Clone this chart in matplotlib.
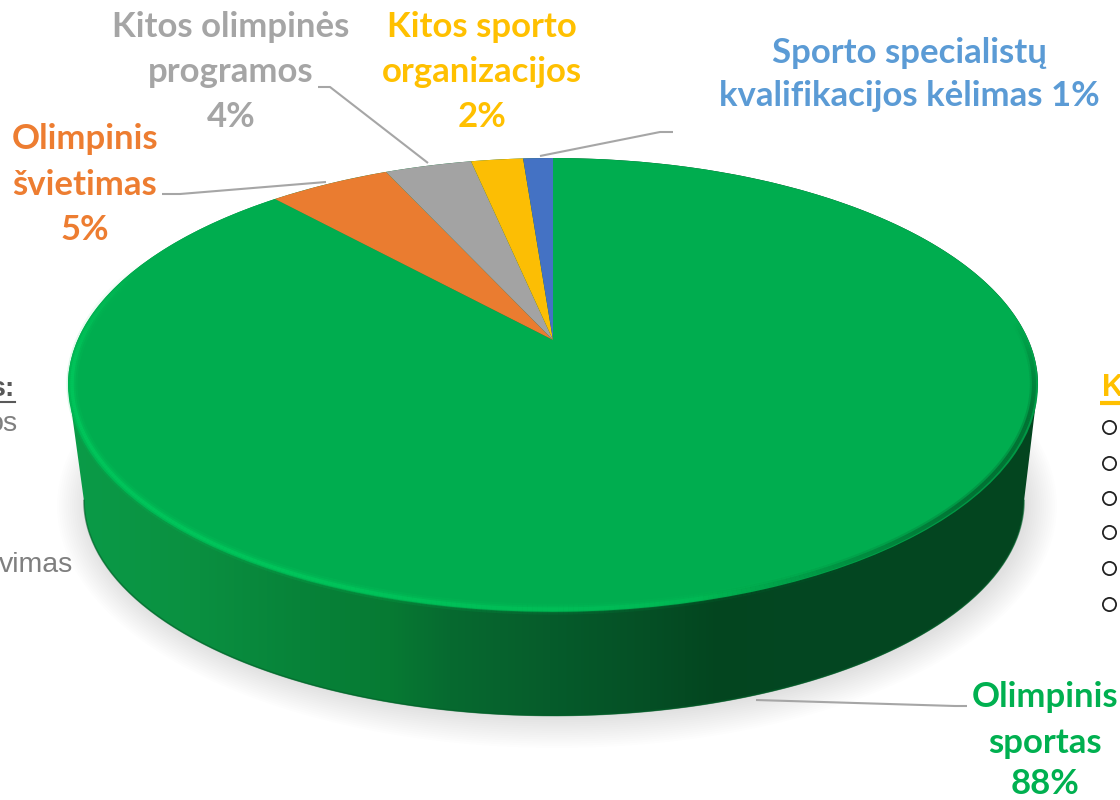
import numpy as np
from matplotlib import pyplot as plt
from matplotlib.collections import LineCollection
from matplotlib.colors import to_rgb
from matplotlib.patches import Ellipse, Polygon
from matplotlib.transforms import Transform

categories = ['Olimpinis sportas', 'Olimpinis švietimas', 'Kitos olimpinės programos',
              'Kitos sporto organizacijos', 'Sporto specialistų kvalifikacijos kėlimas']
# slice sizes as measured on the picture, the labels show them rounded
values = [88.3, 4.9, 3.5, 2.1, 1.2]
slice_colors = ['#00AD4F', '#EA7C30', '#A3A3A3', '#FCBE04', '#4472C4']

# wall shading, left to right
wall_x = [69, 200, 300, 390, 450, 550, 650, 720, 800, 1039]
wall_colors = ['#0B9C48', '#0A8F40', '#078339', '#067A33', '#076A30', '#065C2B',
               '#054F25', '#03451F', '#044722', '#03451F']

plt.rcParams['font.family'] = ['Lato', 'DejaVu Sans']

TILT = 0.198


class Tilt(Transform):
    # the pie is seen in perspective, so its centre is not the middle of the ellipse
    input_dims = 2
    output_dims = 2
    is_affine = False

    def transform_non_affine(self, values):
        xy = np.asarray(values, dtype=float)
        w = 1 + TILT * xy[:, 1]
        return np.column_stack([553 + 475.4 * xy[:, 0] / w, 340 - 218 * xy[:, 1] / w])

    def inverted(self):
        raise NotImplementedError


tilt = Tilt()

fig = plt.figure(figsize=(11.2, 8), dpi=100)
ax = fig.add_axes([0, 0, 1, 1])

# soft shadow under the disc
for d in np.linspace(0, 30, 15):
    ax.add_patch(Ellipse((557, 506), 2 * (470 + d), 2 * (212 + d), fc='black', ec='none',
                         alpha=0.0095, zorder=1))

wedges, _ = ax.pie(values, colors=slice_colors, startangle=90, counterclock=False)
for w in wedges:
    w.set_transform(tilt + ax.transData)
    w.set_linewidth(0)
    w.set_zorder(4)

# side wall, from the widest points of the rim down to a slightly smaller ellipse
a = np.arcsin(TILT)
ang = np.linspace(np.pi + a, -a, 300)
top_edge = tilt.transform(np.column_stack([np.cos(ang), np.sin(ang)]))
t = np.linspace(0, np.pi, 200)
low_edge = np.column_stack([554 + 470 * np.cos(t), 501 + 215 * np.sin(t)])
wall = Polygon(np.vstack([top_edge, low_edge]), closed=True, fc='none', ec='none')
ax.add_patch(wall)
xs = np.arange(60, 1050)
rgb = np.array([to_rgb(c) for c in wall_colors])
shade = np.column_stack([np.interp(xs, wall_x, rgb[:, i]) for i in range(3)])[None, :, :]
im = ax.imshow(shade, extent=(60, 1050, 730, 150), aspect='auto', zorder=2, interpolation='bilinear')
im.set_clip_path(wall)
ax.plot(low_edge[:, 0], low_edge[:, 1] - 0.5, color='#04602A', lw=1.2, alpha=0.6, zorder=3)

# bevel on the rim
phi = np.radians(np.linspace(30, 300, 541))
deg = np.degrees(phi)[:-1]
rim = tilt.transform(np.column_stack([0.992 * np.sin(phi), 0.992 * np.cos(phi)]))
segs = np.stack([rim[:-1], rim[1:]], axis=1)
glow = np.clip((deg - 135) / 70, 0, 1) * np.clip((292 - deg) / 30, 0, 1)
for lw, al in [(8, 0.14), (5, 0.25), (2.5, 0.5)]:
    c = np.zeros((len(segs), 4))
    c[:, :3] = to_rgb('#00D060')
    c[:, 3] = glow * al
    ax.add_collection(LineCollection(segs, colors=c, linewidths=lw, zorder=5))
dark = np.clip((deg - 85) / 25, 0, 1) * np.clip((165 - deg) / 35, 0, 1)
for lw, al in [(6, 0.2), (3, 0.45)]:
    c = np.zeros((len(segs), 4))
    c[:, :3] = to_rgb('#03451F')
    c[:, 3] = dark * al
    ax.add_collection(LineCollection(segs, colors=c, linewidths=lw, zorder=5))

# leader lines
for lx, ly in [([318, 330, 428], [87, 87, 163]),
               ([162, 180, 326], [194, 194, 182]),
               ([540, 660, 673], [156, 132, 132]),
               ([756, 955, 967], [700, 706, 706])]:
    ax.plot(lx, ly, color='#A6A6A6', lw=1.5, zorder=6, solid_capstyle='butt')

# labels
label_font = dict(fontsize=25, fontweight='bold', ha='center', va='center', zorder=7)
for text, lx, ys, col in [
        (['Kitos olimpinės', 'programos', '4%'], 231, [27, 72, 117], '#A5A5A5'),
        (['Kitos sporto', 'organizacijos', '2%'], 482, [27, 72, 117], '#FFC000'),
        (['Sporto specialistų', 'kvalifikacijos kėlimas 1%'], 909, [53, 96], '#5B9BD5'),
        (['Olimpinis', 'švietimas', '5%'], 85, [139, 185, 230], '#ED7D31'),
        (['Olimpinis', 'sportas', '88%'], 1045, [697, 743, 784], '#00B050')]:
    for line, y in zip(text, ys):
        ax.text(lx, y, line, color=col, **label_font)

# bits of the slide text cut off at the edges
side = dict(family='Liberation Sans', color='#7F7F7F', fontsize=20.5, va='center', ha='right', zorder=7)
ax.text(15, 389, 's:', fontweight='bold', **{**side, 'color': '#595959'})
ax.plot([0, 15], [402, 402], color='#595959', lw=1.5)
ax.text(18, 424, 'os', **side)
ax.text(73, 565, 'vimas', **side)
ax.text(1102, 388, 'K', family='Liberation Sans', color='#FFC000', fontsize=22, fontweight='bold',
        va='center', ha='left')
ax.plot([1100, 1120], [403, 403], color='#FFC000', lw=3, solid_capstyle='butt')
bullet_y = [427, 463, 498, 532, 568, 604]
ax.plot([1109] * len(bullet_y), bullet_y, 'o', ms=9.5, mfc='none', mec='#222222', mew=1.3, ls='none')

ax.set_aspect('auto')
ax.set_xlim(0, 1120)
ax.set_ylim(800, 0)
ax.axis('off')

plt.savefig('out.png', dpi=100)
